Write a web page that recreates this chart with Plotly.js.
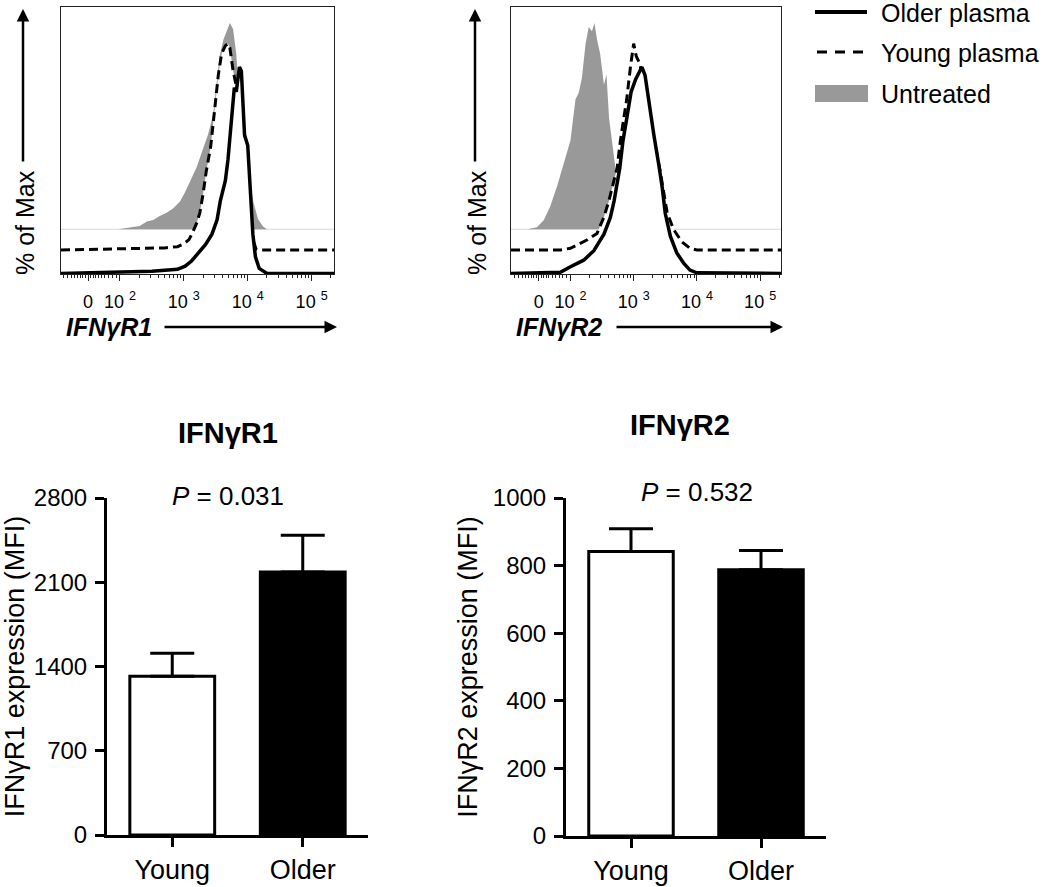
<!DOCTYPE html>
<html>
<head>
<meta charset="utf-8">
<script src="https://cdn.plot.ly/plotly-3.0.1.min.js"></script>
<style>html,body{margin:0;padding:0;background:#fff;}#chart{width:1050px;height:887px;}</style>
</head>
<body>
<div id="chart"></div>
<script>
// ---------- DATA ----------
// Flow histograms: x = display position in log10 units (logicle axis), y = % of max
const r1UntreatedX = [1.97,2.10,2.31,2.42,2.52,2.63,2.73,2.83,2.94,3.02,3.10,3.20,3.30,3.38,3.46,3.51,3.56,3.62,3.67,3.72,3.77,3.82,3.85,3.90,3.96,4.01,4.09,4.16,4.24,4.30];
const r1UntreatedY = [0,0.6,1.6,3.7,4.5,6.5,8,10,13.4,18,23,30,39,46,56,69,84,92,96,100,97,85,71,58,43,28,13,5,1.3,0];
const r1YoungX = [1.077,2.70,2.90,3.00,3.08,3.13,3.20,3.25,3.30,3.35,3.42,3.48,3.54,3.59,3.65,3.69,3.72,3.77,3.82,3.87,3.95,4.03,4.08,4.13,4.18,5.35];
const r1YoungY = [0,1,1.6,3,5,8,13,18,27,38,50,66,85,95,99,100,98,87,80,72,50,22,5,0.5,0,0];
const r1OlderX = [1.077,2.50,2.90,3.02,3.12,3.23,3.34,3.44,3.52,3.57,3.65,3.69,3.72,3.77,3.79,3.82,3.85,3.87,3.90,3.95,4.00,4.04,4.08,4.12,4.18,4.30,5.35];
const r1OlderY = [0,1,2,3.5,6,10,14,19,26,35,45,55,67,85,90,88,95,100,98,67,62,40,19,8,2.4,0,0];

const r2UntreatedX = [1.32,1.47,1.58,1.68,1.79,1.89,2.00,2.08,2.13,2.18,2.24,2.29,2.34,2.38,2.42,2.47,2.53,2.57,2.61,2.66,2.71,2.76,2.82,2.87];
const r2UntreatedY = [0,1,4.5,11,21,32,43,63,66,73,90,98,96,100,92,85,70,75,54,42,30,15,4,0];
const r2YoungX = [1.06,1.84,2.00,2.26,2.42,2.53,2.61,2.74,2.79,2.89,2.95,3.00,3.04,3.10,3.21,3.32,3.42,3.53,3.63,3.76,3.89,4.00,5.33];
const r2YoungY = [0,0,0.8,4.8,8,16,24,40,53,73,89,100,94,90,72,55,38,18,10,4,0.8,0,0];
const r2OlderX = [1.06,1.84,2.00,2.21,2.37,2.53,2.63,2.69,2.78,2.83,2.89,2.96,3.03,3.11,3.13,3.18,3.24,3.32,3.39,3.45,3.50,3.58,3.68,3.79,3.89,4.00,5.33];
const r2OlderY = [0,0.5,3.2,6.4,11,19,27,35,51,64,75,88,94,99,100,96,83,67,54,42,29,18,10,5,1.6,0.3,0];

// Histogram axis tick labels
const histTickVals = [1.5, 2, 3, 4, 5];
const histTickText = ['0', '10 <sup>2</sup>', '10 <sup>3</sup>', '10 <sup>4</sup>', '10 <sup>5</sup>'];

// Bar charts (MFI, mean + SEM)
const groups = ['Young', 'Older'];
const r1Mean = [1320, 2185];
const r1Sem = [190, 305];
const r2Mean = [842, 788];
const r2Sem = [67, 57];
const r1Ticks = [0, 700, 1400, 2100, 2800];
const r2Ticks = [0, 200, 400, 600, 800, 1000];
const pR1 = '0.031';
const pR2 = '0.532';

const seriesNames = ['Older plasma', 'Young plasma', 'Untreated'];

// ---------- STYLE ----------
const FONT = 'Liberation Sans, Arial, Helvetica, sans-serif';
const W = 1050, H = 887;
const px = v => v / W;
const py = v => 1 - v / H;
// staggered-overlay offsets (in % of max units)
const OFF = {older: 0.3, young: 11.65, untreated: 21.7};
const HIST_YMAX = 129.4;
const GRAY = '#999999';

function shift(arr, off) { return arr.map(v => v + off); }

function histTraces(xa, ya, ux, uy, yx, yy, ox, oy) {
  return [
    {x: ux, y: shift(uy, OFF.untreated), xaxis: xa, yaxis: ya, type: 'scatter', mode: 'lines',
     fill: 'toself', fillcolor: GRAY, line: {width: 0, color: GRAY}, name: seriesNames[2], showlegend: false, hoverinfo: 'skip'},
    {x: yx, y: shift(yy, OFF.young), xaxis: xa, yaxis: ya, type: 'scatter', mode: 'lines',
     fill: 'toself', fillcolor: '#ffffff', line: {width: 3, color: '#000', dash: '9px,5px'}, name: seriesNames[1], showlegend: false, hoverinfo: 'skip'},
    {x: ox, y: shift(oy, OFF.older), xaxis: xa, yaxis: ya, type: 'scatter', mode: 'lines',
     fill: 'toself', fillcolor: '#ffffff', line: {width: 3.5, color: '#000'}, name: seriesNames[0], showlegend: false, hoverinfo: 'skip'}
  ];
}

function barTrace(xa, ya, means, sems) {
  return {
    x: groups, y: means, xaxis: xa, yaxis: ya, type: 'bar', width: 0.65,
    marker: {color: ['#ffffff', '#000000'], line: {color: '#000', width: 3}},
    error_y: {type: 'data', symmetric: false, array: sems, arrayminus: sems.map(() => 0),
              color: '#000', thickness: 3, width: 22},
    showlegend: false, hoverinfo: 'skip'
  };
}

const data = [
  ...histTraces('x', 'y', r1UntreatedX, r1UntreatedY, r1YoungX, r1YoungY, r1OlderX, r1OlderY),
  ...histTraces('x2', 'y2', r2UntreatedX, r2UntreatedY, r2YoungX, r2YoungY, r2OlderX, r2OlderY),
  barTrace('x3', 'y3', r1Mean, r1Sem),
  barTrace('x4', 'y4', r2Mean, r2Sem)
];

// minor ticks for logicle-like axis
const minorVals = [1.12, 1.18, 1.24, 1.29, 1.34, 1.38, 1.42, 1.46, 1.54, 1.58, 1.62, 1.66, 1.71, 1.76, 1.82, 1.88, 1.94];
for (let d = 2; d <= 5; d++) for (let k = 2; k <= 9; k++) { const v = d + Math.log10(k); if (v < 5.34) minorVals.push(v); }

function histX(domain, range, anchor) {
  return {domain, range, anchor, showline: true, mirror: true, linecolor: '#222', linewidth: 1,
    ticks: 'outside', ticklen: 6, tickwidth: 1, tickcolor: '#222', tickvals: histTickVals, ticktext: histTickText,
    tickfont: {family: FONT, size: 18, color: '#000'}, ticklabelstandoff: 5,
    minor: {tickvals: minorVals, ticks: 'outside', ticklen: 3, tickwidth: 1, tickcolor: '#222', showgrid: false},
    showgrid: false, zeroline: false, fixedrange: true};
}
function histY(domain, anchor) {
  return {domain, range: [0, HIST_YMAX], anchor, showline: true, mirror: true, linecolor: '#222', linewidth: 1,
    ticks: '', showticklabels: false, showgrid: false, zeroline: false, fixedrange: true};
}
function barX(domain, anchor) {
  return {domain, anchor, type: 'category', range: [-0.5, 1.5], showline: true, linecolor: '#000', linewidth: 3,
    ticks: 'outside', ticklen: 9, tickwidth: 3, tickcolor: '#000', ticklabelstandoff: 0,
    tickfont: {family: FONT, size: 27, color: '#000'}, showgrid: false, zeroline: false, fixedrange: true};
}
function barY(domain, anchor, range, ticks, title) {
  return {domain, anchor, range, tickvals: ticks, showline: true, linecolor: '#000', linewidth: 3,
    ticks: 'outside', ticklen: 9, tickwidth: 3, tickcolor: '#000', ticklabelstandoff: 3,
    tickfont: {family: FONT, size: 24, color: '#000'}, showgrid: false, zeroline: false, fixedrange: true,
    title: {text: title, font: {family: FONT, size: 27, color: '#000'}, standoff: 8}};
}

const annFont = (size) => ({family: FONT, size, color: '#000'});
const annotations = [
  // histogram y titles and arrows
  {xref: 'paper', yref: 'paper', x: px(25), y: py(223), text: '% of Max', textangle: -90, showarrow: false, font: annFont(25), xanchor: 'center', yanchor: 'middle'},
  {xref: 'paper', yref: 'paper', x: px(23), y: py(9), text: '', showarrow: true, ax: 0, ay: 154, arrowhead: 2, arrowsize: 1, arrowwidth: 2.5, arrowcolor: '#000'},
  {xref: 'paper', yref: 'paper', x: px(477), y: py(223), text: '% of Max', textangle: -90, showarrow: false, font: annFont(25), xanchor: 'center', yanchor: 'middle'},
  {xref: 'paper', yref: 'paper', x: px(475), y: py(9), text: '', showarrow: true, ax: 0, ay: 154, arrowhead: 2, arrowsize: 1, arrowwidth: 2.5, arrowcolor: '#000'},
  // histogram x titles and arrows
  {xref: 'paper', yref: 'paper', x: px(64), y: py(327), text: '<b><i>IFNγR1</i></b>', showarrow: false, font: annFont(25), xanchor: 'left', yanchor: 'middle'},
  {xref: 'paper', yref: 'paper', x: px(337), y: py(327), text: '', showarrow: true, ax: -174, ay: 0, arrowhead: 2, arrowsize: 1, arrowwidth: 2.5, arrowcolor: '#000'},
  {xref: 'paper', yref: 'paper', x: px(514), y: py(327), text: '<b><i>IFNγR2</i></b>', showarrow: false, font: annFont(25), xanchor: 'left', yanchor: 'middle'},
  {xref: 'paper', yref: 'paper', x: px(783), y: py(327), text: '', showarrow: true, ax: -168, ay: 0, arrowhead: 2, arrowsize: 1, arrowwidth: 2.5, arrowcolor: '#000'},
  // bar chart titles and p values
  {xref: 'paper', yref: 'paper', x: px(228), y: py(433), text: '<b>IFNγR1</b>', showarrow: false, font: annFont(29), xanchor: 'center', yanchor: 'middle'},
  {xref: 'paper', yref: 'paper', x: px(228), y: py(496), text: '<i>P</i> = ' + pR1, showarrow: false, font: annFont(26), xanchor: 'center', yanchor: 'middle'},
  {xref: 'paper', yref: 'paper', x: px(680), y: py(425), text: '<b>IFNγR2</b>', showarrow: false, font: annFont(29), xanchor: 'center', yanchor: 'middle'},
  {xref: 'paper', yref: 'paper', x: px(697), y: py(492), text: '<i>P</i> = ' + pR2, showarrow: false, font: annFont(26), xanchor: 'center', yanchor: 'middle'},
  // legend text
  {xref: 'paper', yref: 'paper', x: px(879), y: py(13), text: seriesNames[0], showarrow: false, font: annFont(25), xanchor: 'left', yanchor: 'middle'},
  {xref: 'paper', yref: 'paper', x: px(879), y: py(53), text: seriesNames[1], showarrow: false, font: annFont(25), xanchor: 'left', yanchor: 'middle'},
  {xref: 'paper', yref: 'paper', x: px(879), y: py(94), text: seriesNames[2], showarrow: false, font: annFont(25), xanchor: 'left', yanchor: 'middle'}
];

const shapes = [
  // faint baseline of the untreated (staggered) histogram
  {type: 'line', xref: 'x', yref: 'y', x0: 1.077, x1: 5.35, y0: OFF.untreated, y1: OFF.untreated, line: {color: '#d9d9d9', width: 1}, layer: 'below'},
  {type: 'line', xref: 'x2', yref: 'y2', x0: 1.06, x1: 5.33, y0: OFF.untreated, y1: OFF.untreated, line: {color: '#d9d9d9', width: 1}, layer: 'below'},
  // legend keys
  {type: 'line', xref: 'paper', yref: 'paper', x0: px(815), x1: px(867), y0: py(12), y1: py(12), line: {color: '#000', width: 4}},
  {type: 'line', xref: 'paper', yref: 'paper', x0: px(817), x1: px(867), y0: py(52), y1: py(52), line: {color: '#000', width: 3, dash: '10px,8px'}},
  {type: 'rect', xref: 'paper', yref: 'paper', x0: px(815), x1: px(868), y0: py(102), y1: py(85), fillcolor: GRAY, line: {width: 0}}
];

const layout = {
  width: W, height: H,
  margin: {l: 0, r: 0, t: 0, b: 0},
  paper_bgcolor: '#ffffff', plot_bgcolor: '#ffffff',
  font: {family: FONT, color: '#000'},
  showlegend: false,
  xaxis: histX([px(61), px(334)], [1.077, 5.35], 'y'),
  yaxis: histY([py(274), py(7)], 'x'),
  xaxis2: histX([px(511), px(781)], [1.06, 5.33], 'y2'),
  yaxis2: histY([py(274), py(7)], 'x2'),
  xaxis3: barX([px(107), px(368)], 'y3'),
  yaxis3: barY([py(835), py(498)], 'x3', [0, 2800], r1Ticks, 'IFNγR1 expression (MFI)'),
  xaxis4: barX([px(566), px(826)], 'y4'),
  yaxis4: barY([py(836), py(498)], 'x4', [0, 1000], r2Ticks, 'IFNγR2 expression (MFI)'),
  annotations, shapes
};

Plotly.newPlot('chart', data, layout, {displayModeBar: false, staticPlot: true});
</script>
</body>
</html>
